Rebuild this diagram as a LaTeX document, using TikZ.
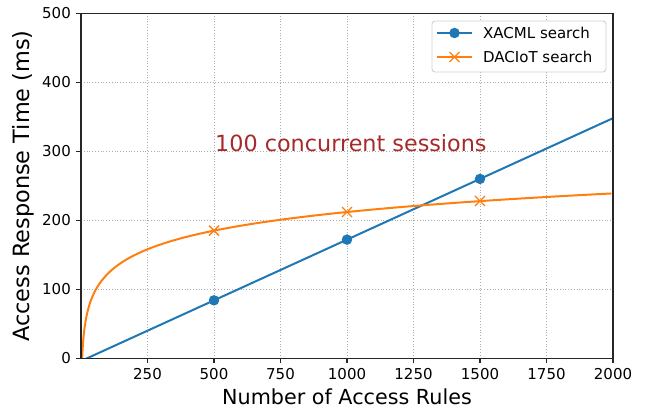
\documentclass[tikz,border=0pt]{standalone}
\usepackage{fontspec}
\setmainfont{DejaVu Sans}
\usetikzlibrary{calc}
\definecolor{mblue}{HTML}{1F77B4}
\definecolor{morange}{HTML}{FF7F0E}
\definecolor{mbrown}{HTML}{A52A2A}
\tikzset{
  gridline/.style={draw=black!32, dotted, line width=0.8pt},
  frame/.style={draw=black!85, line width=1.2pt},
  tickmark/.style={draw=black!85, line width=1.1pt},
  ticklabel/.style={inner sep=0pt, font=\fontsize{15}{18}\selectfont},
  axislabel/.style={inner sep=0pt, font=\fontsize{20.7}{24}\selectfont},
  blueseries/.style={draw=mblue, line width=2pt},
  orangeseries/.style={draw=morange, line width=2pt},
  bluedot/.style={circle, fill=mblue, inner sep=0pt, minimum size=10.5pt},
}
\newcommand{\xmark}[1]{%
  \draw[draw=morange, line width=1.3pt] ($(#1)+(-5pt,-5pt)$) -- ($(#1)+(5pt,5pt)$)
        ($(#1)+(-5pt,5pt)$) -- ($(#1)+(5pt,-5pt)$);}
\begin{document}
\begin{tikzpicture}[x=1pt,y=1pt]
\useasboundingbox (0,0) rectangle (646,413);
\begin{scope}[shift={(81pt,54.7pt)}, x=0.266pt, y=0.69pt]
  % grid
  \foreach \gx in {250,500,...,1750} \draw[gridline] (\gx,0) -- (\gx,500);
  \foreach \gy in {100,200,...,400} \draw[gridline] (0,\gy) -- (2000,\gy);
  % series
  \begin{scope}
    \clip (0,0) rectangle (2000,500);
    \draw[blueseries] (0,-4) -- (2000,348);
    \draw[orangeseries, variable=\t, samples=300, domain=1.466:7.601]
      plot ({exp(\t)},{-57.06+38.95*\t});
  \end{scope}
  \node[bluedot] (b1) at (500,84) {};
  \node[bluedot] (b2) at (1000,172) {};
  \node[bluedot] (b3) at (1500,260) {};
  \coordinate (o1) at (500,185);
  \coordinate (o2) at (1000,212);
  \coordinate (o3) at (1500,228);
  \xmark{o1}\xmark{o2}\xmark{o3}
  % frame
  \draw[frame] (0,0) rectangle (2000,500);
  % ticks and labels
  \foreach \gx in {250,500,...,2000} {
    \draw[tickmark] (\gx,0) -- ++(0,-5pt);
    \node[ticklabel, anchor=north] (xt\gx) at ([yshift=-10pt]\gx,0) {\gx};
  }
  \foreach \gy in {0,100,...,500} {
    \draw[tickmark] (0,\gy) -- ++(-5pt,0);
    \node[ticklabel, anchor=east] (yt\gy) at ([xshift=-10pt]0,\gy) {\gy};
  }
\end{scope}
% axis titles
\node[axislabel] (xlabel) at (347,16) {Number of Access Rules};
\node[axislabel, font=\fontsize{22.4}{26}\selectfont, rotate=90] (ylabel) at (23,227) {Access Response Time (ms)};
% annotation
\node[inner sep=0pt, anchor=west, text=mbrown, font=\fontsize{22.3}{26}\selectfont]
  (note) at (215,270) {100 concurrent sessions};
% legend
\draw[draw=black!18, fill=white, rounded corners=3pt, line width=0.9pt]
  (432,392) rectangle (606,341);
\draw[blueseries] (437,380) -- (472,380);
\node[bluedot] (lb) at (454.5,380) {};
\node[ticklabel, anchor=west] (lt1) at (483,380) {XACML search};
\draw[orangeseries] (437,356) -- (472,356);
\coordinate (lo) at (454.5,356);
\xmark{lo}
\node[ticklabel, anchor=west] (lt2) at (483,356) {DACIoT search};
\end{tikzpicture}
\end{document}
